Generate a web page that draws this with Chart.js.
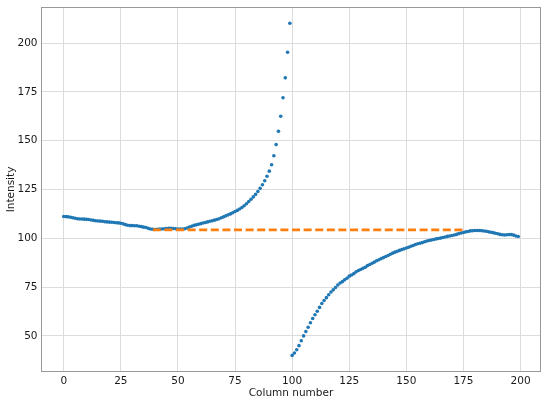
<!DOCTYPE html>
<html>
<head>
<meta charset="utf-8">
<script src="https://cdn.jsdelivr.net/npm/chart.js@4/dist/chart.umd.min.js"></script>
<style>
  html, body { margin: 0; padding: 0; background: #fff; }
</style>
</head>
<body>
<canvas id="chartIntensity" width="550" height="406"></canvas>
<script>
// intensity per column, columns 0..99 (rises to the peak)
const intensityLeft = [
  111.2, 111.1, 111.0, 110.8, 110.5, 110.3, 110.0, 109.9, 109.9, 109.8,
  109.7, 109.6, 109.4, 109.2, 109.0, 108.9, 108.8, 108.7, 108.5, 108.4,
  108.3, 108.2, 108.1, 108.0, 107.9, 107.7, 107.4, 107.0, 106.7, 106.5,
  106.5, 106.4, 106.4, 106.2, 106.0, 105.7, 105.5, 105.1, 104.8, 104.6,
  104.5, 104.6, 104.7, 104.8, 104.9, 105.0, 105.1, 105.1, 105.0, 104.9,
  104.8, 104.7, 104.7, 104.9, 105.3, 105.8, 106.2, 106.6, 106.9, 107.2,
  107.5, 107.8, 108.1, 108.4, 108.7, 109.0, 109.3, 109.6, 110.0, 110.5,
  111.0, 111.5, 112.0, 112.5, 113.1, 113.7, 114.3, 115.0, 115.8, 116.7,
  117.7, 118.8, 120.0, 121.2, 122.5, 124.0, 125.6, 127.4, 129.5, 131.8,
  134.4, 137.7, 142.3, 148.0, 154.8, 162.5, 172.0, 182.2, 195.3, 210.2
];
// intensity per column, columns 100..199 (recovers after the drop)
const intensityRight = [
  40.0, 41.2, 42.9, 45.0, 47.5, 50.0, 52.2, 54.4, 56.7, 58.9,
  60.8, 62.6, 64.6, 66.6, 68.1, 69.6, 71.1, 72.5, 73.6, 74.8,
  76.1, 77.1, 77.8, 78.7, 79.5, 80.6, 81.2, 81.9, 82.8, 83.5,
  84.0, 84.6, 85.2, 86.0, 86.6, 87.2, 87.8, 88.5, 89.0, 89.6,
  90.1, 90.7, 91.2, 91.8, 92.4, 92.9, 93.3, 93.8, 94.2, 94.6,
  95.0, 95.4, 95.9, 96.3, 96.8, 97.2, 97.5, 97.8, 98.2, 98.6,
  98.9, 99.1, 99.4, 99.7, 99.9, 100.1, 100.4, 100.7, 101.0, 101.2,
  101.4, 101.7, 102.0, 102.4, 102.7, 103.0, 103.3, 103.5, 103.8, 103.9,
  104.0, 104.0, 104.0, 103.9, 103.7, 103.6, 103.3, 103.1, 102.9, 102.6,
  102.3, 102.0, 101.8, 101.7, 101.8, 101.9, 101.9, 101.6, 101.2, 100.9
];
// dashed baseline
const baselineCols = [39, 176];
const baselineLevel = [104.3, 104.3];

const xTicks = [0, 25, 50, 75, 100, 125, 150, 175, 200];
const yTicks = [50, 75, 100, 125, 150, 175, 200];

const intensity = intensityLeft.concat(intensityRight);
const points = intensity.map((v, i) => ({x: i, y: v}));
const baseline = baselineCols.map((c, i) => ({x: c, y: baselineLevel[i]}));

const FONT = {family: 'DejaVu Sans', size: 10.5};
const TEXT = '#1a1a1a';

// draws the 4 spines like matplotlib
const frame = {
  id: 'frame',
  afterDraw(chart) {
    const a = chart.chartArea, c = chart.ctx;
    c.save();
    c.strokeStyle = '#999999';
    c.lineWidth = 1;
    c.strokeRect(a.left + 0.5, a.top + 0.5, a.right - a.left - 1, a.bottom - a.top - 1);
    c.restore();
  }
};

const ctx = document.getElementById('chartIntensity');
new Chart(ctx, {
  type: 'scatter',
  data: {
    datasets: [{
      label: 'baseline',
      type: 'line',
      data: baseline,
      showLine: true,
      borderColor: '#ff7f0e',
      borderWidth: 2.7,
      borderDash: [8, 3.6],
      pointRadius: 0,
      fill: false,
      order: 0
    }, {
      label: 'intensity',
      data: points,
      backgroundColor: '#1f77b4',
      borderWidth: 0,
      pointRadius: 1.8,
      order: 1
    }]
  },
  options: {
    responsive: false,
    animation: false,
    layout: {padding: {left: 0, right: 9, top: 7, bottom: 0}},
    plugins: {legend: {display: false}, tooltip: {enabled: false}},
    scales: {
      x: {
        type: 'linear',
        min: -9.95,
        max: 208.95,
        afterBuildTicks: (s) => { s.ticks = xTicks.map(v => ({value: v})); },
        afterFit: (s) => { s.height = 34; s.paddingLeft = 0; s.paddingRight = 0; },
        grid: {color: '#dcdcdc', lineWidth: 1, drawTicks: false},
        border: {display: false},
        ticks: {font: FONT, color: TEXT, padding: 3, maxRotation: 0,
          callback: (v) => String(v)},
        title: {display: true, text: 'Column number', font: FONT, color: TEXT,
          padding: {top: 0, bottom: 6}}
      },
      y: {
        type: 'linear',
        min: 31.5,
        max: 218.5,
        afterBuildTicks: (s) => { s.ticks = yTicks.map(v => ({value: v})); },
        afterFit: (s) => { s.width = 41; s.paddingTop = 0; s.paddingBottom = 0; },
        grid: {color: '#dcdcdc', lineWidth: 1, drawTicks: false},
        border: {display: false},
        ticks: {font: FONT, color: TEXT, padding: 3.5,
          callback: (v) => String(v)},
        title: {display: true, text: 'Intensity', font: FONT, color: TEXT,
          padding: {top: 5, bottom: 0}}
      }
    }
  },
  plugins: [frame]
});
</script>
</body>
</html>
